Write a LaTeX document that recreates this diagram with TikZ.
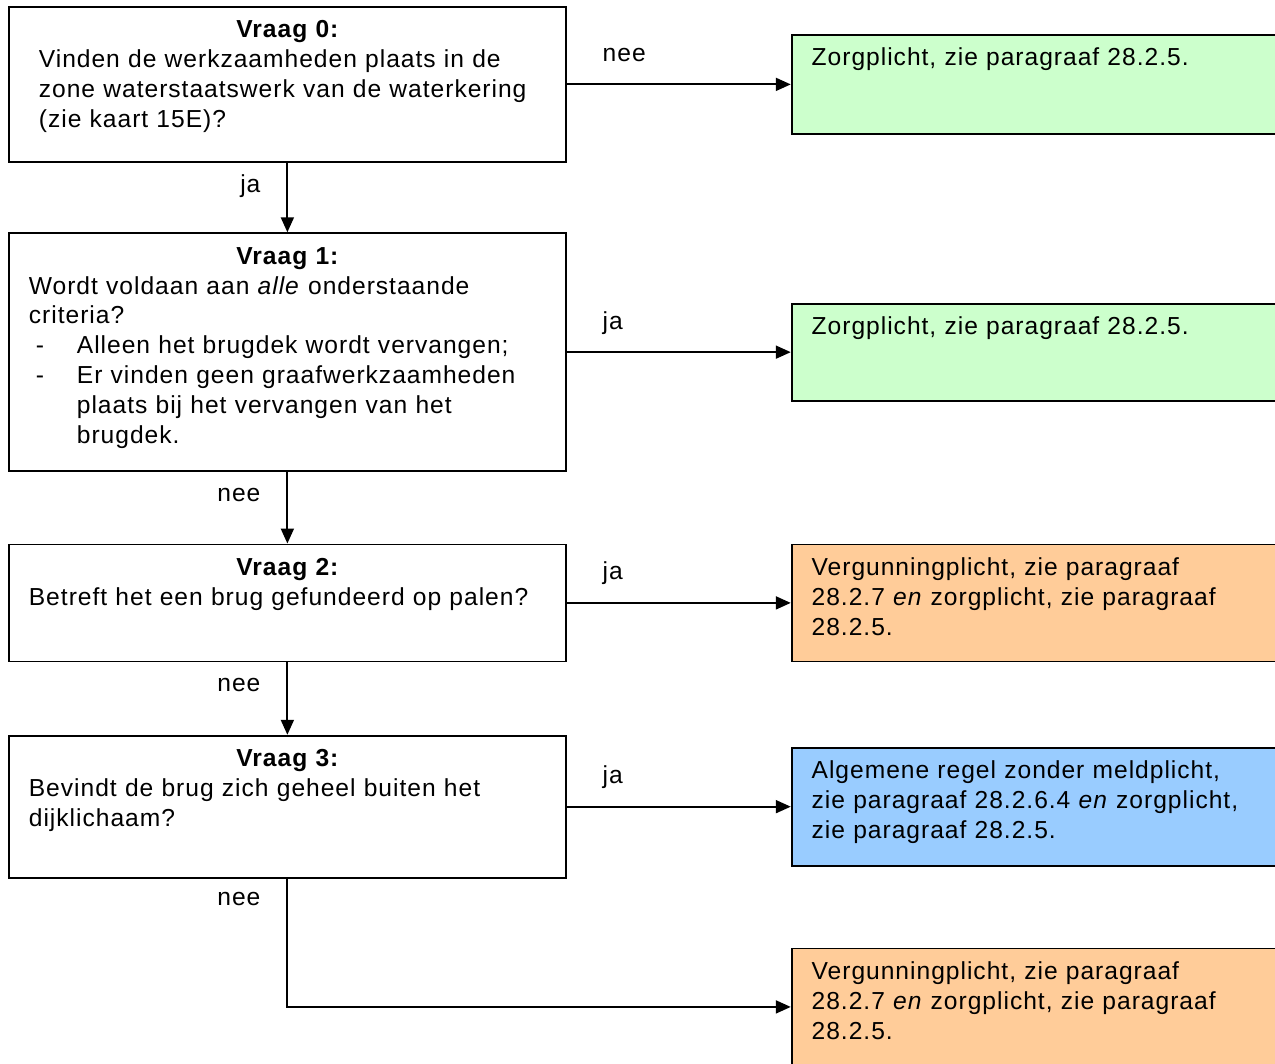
\documentclass[tikz,border=0pt]{standalone}
\usepackage{fontspec}
\setmainfont{Liberation Sans}[LetterSpace=4]
\usepackage{xcolor}
\usetikzlibrary{arrows.meta, positioning}

\definecolor{zorggroen}{HTML}{CCFFCC}
\definecolor{vergoranje}{HTML}{FFCC99}
\definecolor{regelblauw}{HTML}{99CCFF}

\newcommand{\streep}{\hspace*{0.14cm}\makebox[0.82cm][l]{-}}
\newcommand{\inspr}{\hspace*{0.96cm}}

\begin{document}
\begin{tikzpicture}[
    node distance=1.45cm and 4.48cm,
    every node/.style={font=\fontsize{14}{17}\selectfont},
    vraag/.style={rectangle, draw, line width=1pt, fill=white,
                  minimum width=11.14cm, text width=10.34cm, inner xsep=0.4cm,
                  inner ysep=0pt, align=left, text height=0.62cm, text depth=#1},
    uitkomst/.style={rectangle, draw, line width=1pt,
                  minimum width=10cm, text width=9.2cm, inner xsep=0.4cm,
                  inner ysep=0pt, align=left, text height=0.62cm, text depth=#1},
    arrow/.style={-{Triangle[length=0.3cm, width=0.26cm]}, line width=1.1pt},
    lbl/.style={inner sep=0pt}
]
\useasboundingbox (0,0) rectangle (25.5,-21.26);
\clip (0,0) rectangle (25.5,-21.26);

% ---- Left column: questions ----
\node[vraag=2.48cm, anchor=north west, inner xsep=0.6cm, text width=9.94cm] (q0) at (0.16,-0.12) {
    \makebox[\linewidth]{\bfseries Vraag 0:}\\
    Vinden de werkzaamheden plaats in de\\
    zone waterstaatswerk van de waterkering\\
    (zie kaart 15E)?};
\node[vraag=4.14cm, below=1.39cm of q0] (q1) {
    \makebox[\linewidth]{\bfseries Vraag 1:}\\
    Wordt voldaan aan \textit{alle} onderstaande\\
    criteria?\\
    \streep Alleen het brugdek wordt vervangen;\\
    \streep Er vinden geen graafwerkzaamheden\\
    \inspr plaats bij het vervangen van het\\
    \inspr brugdek.};
\node[vraag=1.72cm, below=1.43cm of q1] (q2) {
    \makebox[\linewidth]{\bfseries Vraag 2:}\\
    Betreft het een brug gefundeerd op palen?};
\node[vraag=2.22cm, below=1.45cm of q2] (q3) {
    \makebox[\linewidth]{\bfseries Vraag 3:}\\
    Bevindt de brug zich geheel buiten het\\
    dijklichaam?};

% ---- Right column: outcomes ----
\node[uitkomst=1.36cm, fill=zorggroen, right=of q0] (r0) {Zorgplicht, zie paragraaf 28.2.5.};
\node[uitkomst=1.32cm, fill=zorggroen, right=of q1] (r1) {Zorgplicht, zie paragraaf 28.2.5.};
\node[uitkomst=1.72cm, fill=vergoranje, right=of q2] (r2) {
    Vergunningplicht, zie paragraaf\\
    28.2.7 \textit{en} zorgplicht, zie paragraaf\\
    28.2.5.};
\node[uitkomst=1.74cm, fill=regelblauw, right=of q3] (r3) {
    Algemene regel zonder meldplicht,\\
    zie paragraaf 28.2.6.4 \textit{en} zorgplicht,\\
    zie paragraaf 28.2.5.};
\node[uitkomst=1.72cm, fill=vergoranje, below=1.62cm of r3] (r4) {
    Vergunningplicht, zie paragraaf\\
    28.2.7 \textit{en} zorgplicht, zie paragraaf\\
    28.2.5.};

% ======== ja / nee ========
\draw[arrow] (q0) -- node[lbl, pos=0, anchor=base west, xshift=0.7cm, yshift=0.46cm]{nee} (r0);
\draw[arrow] (q0) -- node[lbl, pos=0.34, anchor=east, xshift=-0.52cm]{ja} (q1);
\draw[arrow] (q1) -- node[lbl, pos=0, anchor=base west, xshift=0.7cm, yshift=0.46cm]{ja} (r1);
\draw[arrow] (q1) -- node[lbl, pos=0.32, anchor=east, xshift=-0.52cm]{nee} (q2);
\draw[arrow] (q2) -- node[lbl, pos=0, anchor=base west, xshift=0.7cm, yshift=0.46cm]{ja} (r2);
\draw[arrow] (q2) -- node[lbl, pos=0.32, anchor=east, xshift=-0.52cm]{nee} (q3);
\draw[arrow] (q3) -- node[lbl, pos=0, anchor=base west, xshift=0.7cm, yshift=0.46cm]{ja} (r3);
\draw[arrow] (q3.south) |- node[lbl, pos=0.08, anchor=east, xshift=-0.52cm]{nee} (r4.west);

\end{tikzpicture}
\end{document}
